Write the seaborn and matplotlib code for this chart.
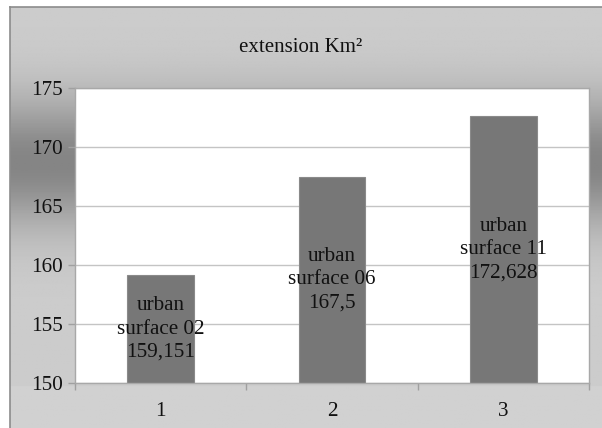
import matplotlib
matplotlib.use("Agg")
import matplotlib.pyplot as plt
import seaborn as sns
import numpy as np
import pandas as pd

# datos
categorias = ["1", "2", "3"]
codigos = ["02", "06", "11"]
valores = [159.151, 167.5, 172.628]

sns.set_style("white")
plt.rcParams["font.family"] = ["Liberation Serif", "DejaVu Serif"]

fig = plt.figure(figsize=(6.02, 4.28), dpi=100)
fig.patch.set_facecolor("white")

# fondo gris con degradado (marco del grafico)
bg = fig.add_axes([10 / 602, 0, 592 / 602, 421 / 428])
yy = np.linspace(0, 421, 300)[:, None]
grad = 0.80 - 0.28 * np.exp(-((yy - 155) ** 2) / (2 * 45 ** 2)) + 0.02 * (yy > 380)
bg.imshow(np.repeat(grad, 10, axis=1), cmap="gray", vmin=0, vmax=1,
          aspect="auto", extent=[0, 1, 0, 1])
bg.set_xticks([])
bg.set_yticks([])
for s in ["right", "bottom"]:
    bg.spines[s].set_visible(False)
for s in ["left", "top"]:
    bg.spines[s].set_color("#8c8c8c")
    bg.spines[s].set_linewidth(1.2)

ax = fig.add_axes([75 / 602, 1 - 383 / 428, 514 / 602, 295 / 428])
df = pd.DataFrame({"cat": categorias, "valor": valores})
sns.barplot(data=df, x="cat", y="valor", color="#777777", width=0.39,
            edgecolor="#8a8a8a", linewidth=0.8, saturation=1, ax=ax)

ax.set_ylim(150, 175)
ax.set_xlim(-0.5, 2.5)
ax.set_yticks([150, 155, 160, 165, 170, 175])
ax.yaxis.grid(True, color="#c4c4c4", linewidth=1)
ax.set_axisbelow(True)
ax.set_facecolor("white")
ax.set_xlabel("")
ax.set_ylabel("")

for s in ["left", "bottom", "top", "right"]:
    ax.spines[s].set_color("#a8a8a8")
    ax.spines[s].set_linewidth(1)

ax.tick_params(axis="y", length=5, width=1, color="#a0a0a0", pad=4, labelsize=15.2,
               labelcolor="#111111", left=True)
ax.tick_params(axis="x", which="major", length=0, pad=14, labelsize=15.2, labelcolor="#111111")
ax.set_xticks([-0.5, 0.5, 1.5, 2.5], minor=True)
ax.tick_params(axis="x", which="minor", length=5, width=1, color="#a0a0a0", bottom=True)

for i, (cod, v) in enumerate(zip(codigos, valores)):
    etiqueta = f"urban\nsurface {cod}\n{str(v).replace('.', ',')}"
    ax.text(i, (150 + v) / 2, etiqueta, ha="center", va="center",
            fontsize=15.2, linespacing=1.3, color="#111111")

fig.text(301 / 602, 1 - 47 / 428, "extension Km²", ha="center", va="center",
         fontsize=15, color="#111111")

fig.savefig("out.png", dpi=100)
